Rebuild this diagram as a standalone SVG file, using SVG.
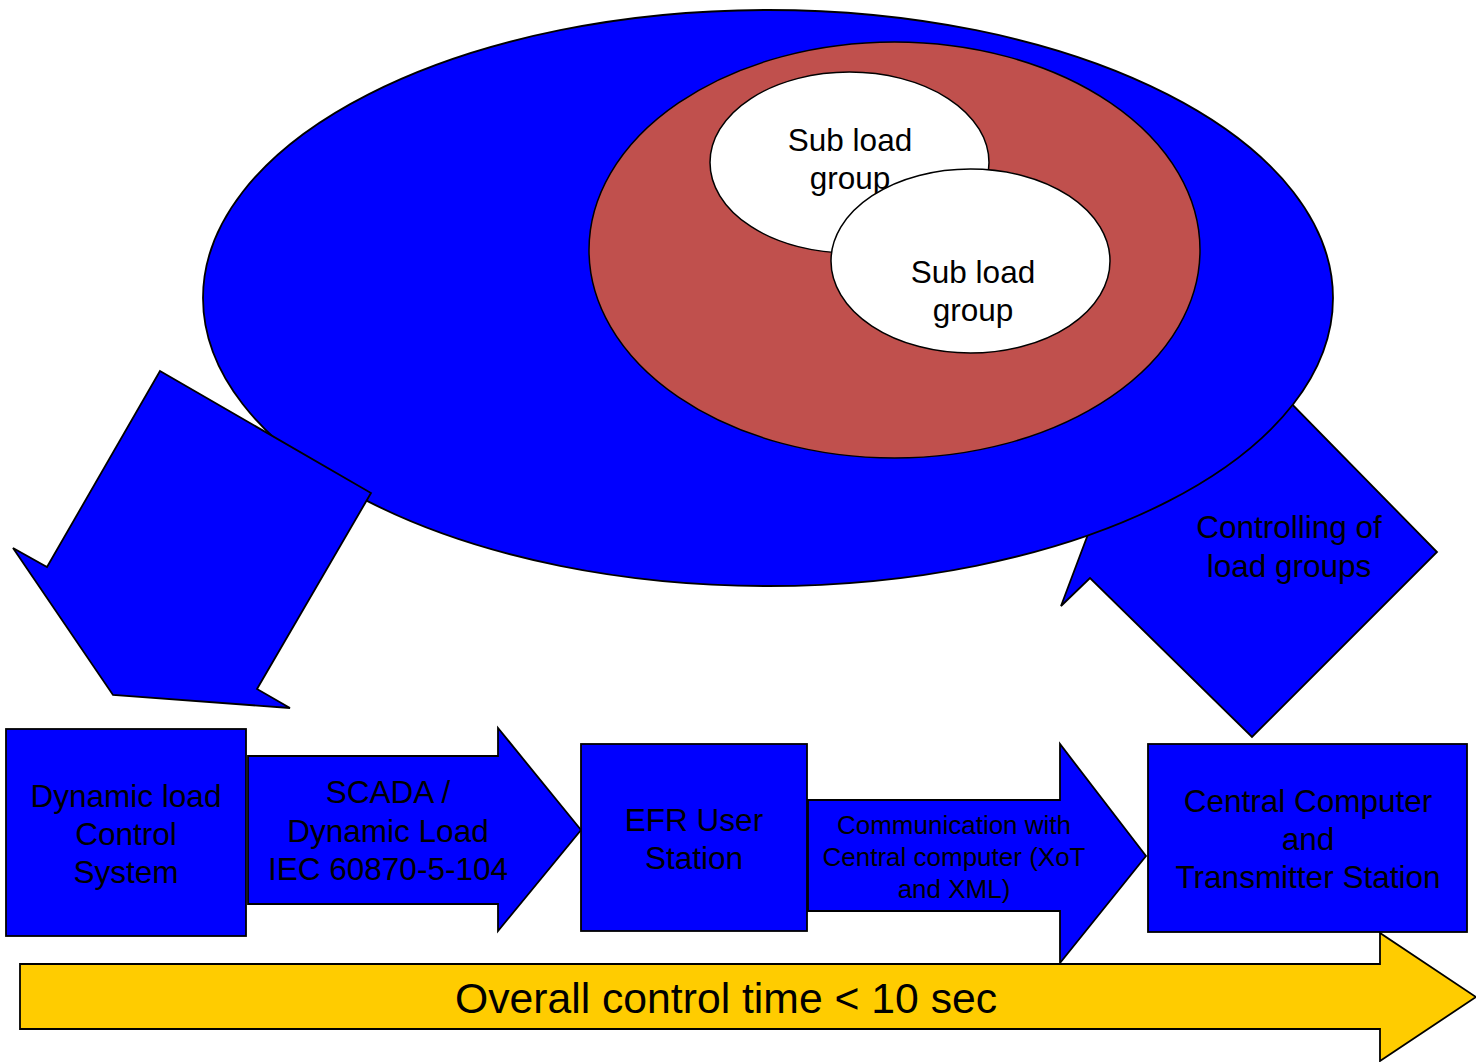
<svg xmlns="http://www.w3.org/2000/svg" width="1476" height="1062" viewBox="0 0 1476 1062">
<style>
.blue{fill:#0000FF;stroke:#000;stroke-width:1.8;stroke-linejoin:miter}
.red{fill:#C0504D;stroke:#000;stroke-width:1.5}
.white{fill:#FFFFFF;stroke:#000;stroke-width:1.5}
.yellow{fill:#FFCC00;stroke:#000;stroke-width:1.8}
text{font-family:"Liberation Sans",Arial,sans-serif;fill:#000;text-anchor:middle}
.t{font-size:31.5px}
.s{font-size:26px}
.b{font-size:42.7px}
</style>
<rect width="1476" height="1062" fill="#FFFFFF"/>
<g id="connectors-back">
<g id="arrow-controlling">
<polygon class="blue" points="1128,428 1306,361 1278,390 1437,552 1252,737 1090,578 1061,606"/>
<text class="t" x="1289" y="538">Controlling of</text>
<text class="t" x="1289" y="577">load groups</text>
</g>
</g>
<g id="load-group">
<ellipse class="blue" cx="768" cy="298" rx="565" ry="288"/>
</g>
<g id="group-inner">
<ellipse class="red" cx="894.5" cy="250" rx="305.5" ry="208"/>
</g>
<g id="sub-load-group-1">
<ellipse class="white" cx="849.5" cy="162.5" rx="139.5" ry="90.5"/>
<text class="t" x="850" y="151">Sub load</text>
<text class="t" x="850" y="189">group</text>
</g>
<g id="sub-load-group-2">
<ellipse class="white" cx="970.5" cy="261" rx="139.5" ry="92"/>
<text class="t" x="973" y="283">Sub load</text>
<text class="t" x="973" y="321">group</text>
</g>
<g id="connectors">
<polygon id="arrow-down" class="blue" points="160,371 371,493 257,689 290,708 113,695 13,548 47,567"/>
<g id="arrow-scada">
<polygon class="blue" points="248,756 498,756 498,728 581,830 498,931 498,904 248,904"/>
<text class="t" x="388" y="803">SCADA /</text>
<text class="t" x="388" y="842">Dynamic Load</text>
<text class="t" x="388" y="880">IEC 60870-5-104</text>
</g>
<g id="arrow-comm">
<polygon class="blue" points="808,800 1060,800 1060,744 1146,856 1060,963 1060,911 808,911"/>
<text class="s" x="954" y="834">Communication with</text>
<text class="s" x="954" y="866">Central computer (XoT</text>
<text class="s" x="954" y="898">and XML)</text>
</g>
<g id="arrow-time">
<polygon class="yellow" points="20,964 1380,964 1380,933 1476,997 1380,1061 1380,1029 20,1029"/>
<text class="b" x="726" y="1013">Overall control time &lt; 10 sec</text>
</g>
</g>
<g id="dynamic-load-control">
<rect class="blue" x="6" y="729" width="240" height="207"/>
<text class="t" x="126" y="807">Dynamic load</text>
<text class="t" x="126" y="845">Control</text>
<text class="t" x="126" y="883">System</text>
</g>
<g id="efr-user-station">
<rect class="blue" x="581" y="744" width="226" height="187"/>
<text class="t" x="694" y="831">EFR User</text>
<text class="t" x="694" y="869">Station</text>
</g>
<g id="central-computer">
<rect class="blue" x="1148" y="744" width="319" height="188"/>
<text class="t" x="1308" y="812">Central Computer</text>
<text class="t" x="1308" y="850">and</text>
<text class="t" x="1308" y="888">Transmitter Station</text>
</g>
</svg>
